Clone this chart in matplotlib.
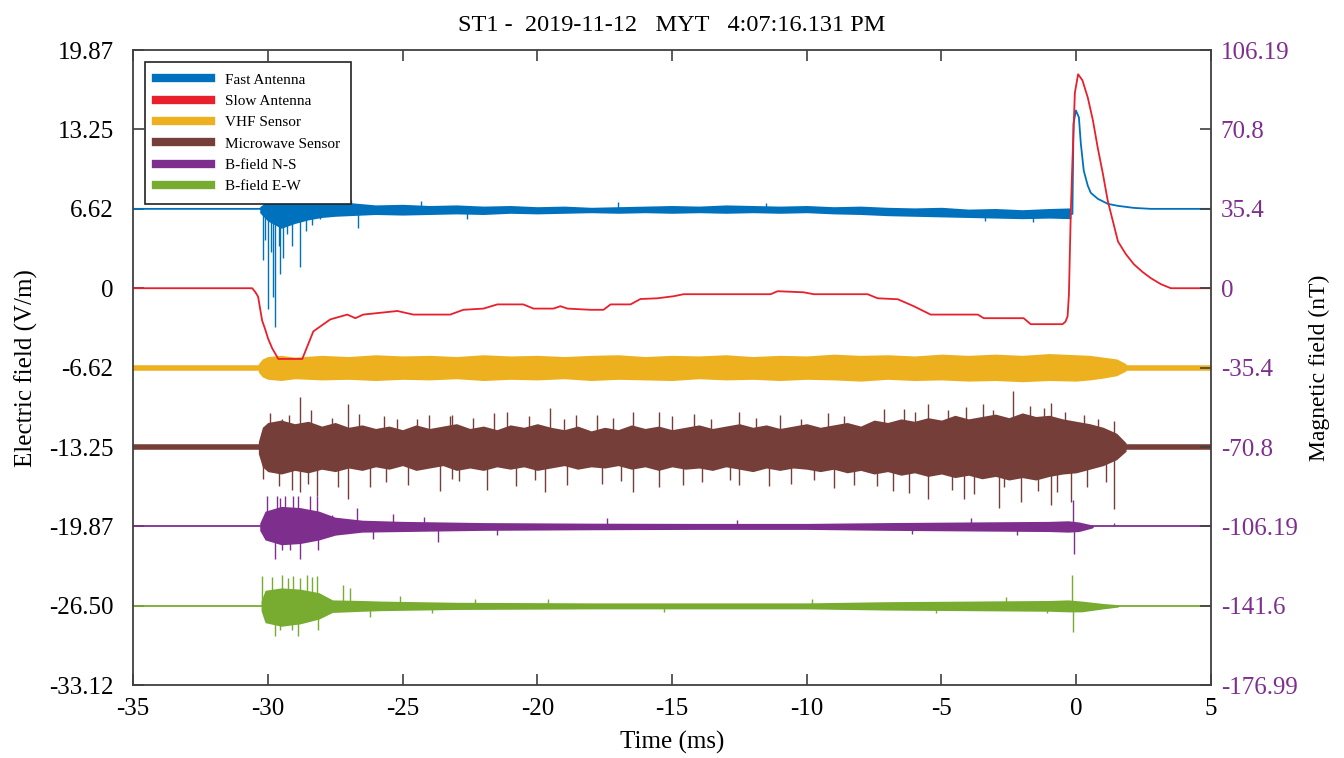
import matplotlib
matplotlib.use("Agg")
import matplotlib.pyplot as plt
from matplotlib.lines import Line2D

plt.rcParams['font.family'] = ['Liberation Serif', 'DejaVu Serif']
plt.rcParams['axes.unicode_minus'] = False

# colours
c_fast = '#0072BD'
c_slow = '#E8202C'
c_vhf = '#EDB120'
c_mw = '#763E39'
c_ns = '#7E2F8E'
c_ew = '#77AC30'

# Fast antenna (V/m): clean part of the trace
fa_t = [-35, -30.35, -27, -20, -10, -5, -0.2, -0.14, -0.10, -0.01, 0.10, 0.17, 0.28, 0.43, 0.54,
        0.80, 1.17, 1.55, 2.14, 2.77, 5]
fa_v = [6.62, 6.62, 6.6, 6.5, 6.55, 6.35, 6.2, 6.2, 13.74, 14.83, 14.25, 12.1, 9.8, 8.55, 7.96,
        7.46, 7.04, 6.87, 6.70, 6.62, 6.62]
# noise band of the fast antenna
fa_bt = [-30.3, -30.0, -29.5, -29.0, -28.5, -28.0, -27.5, -27.0, -26.5, -26.0, -25.0, -24.0, -23.0,
         -22.0, -21.0, -20.0, -19.0, -18.0, -17.0, -16.0, -15.0, -14.0, -13.0, -12.0, -11.0, -10.0,
         -9.0, -8.0, -7.0, -6.0, -5.0, -4.0, -3.0, -2.0, -1.0, -0.2]
fa_hi = [6.8, 7.3, 7.5, 7.6, 7.4, 7.5, 7.3, 7.15, 7.05, 6.95, 7.0, 6.9, 6.95, 6.85, 6.9, 6.8, 6.85,
         6.75, 6.8, 6.85, 6.9, 6.85, 6.95, 6.9, 6.85, 6.9, 6.8, 6.85, 6.75, 6.7, 6.75, 6.6, 6.65,
         6.55, 6.65, 6.7]
fa_lo = [6.3, 5.6, 5.0, 5.4, 5.7, 5.9, 6.0, 6.05, 6.1, 6.15, 6.1, 6.15, 6.2, 6.15, 6.25, 6.2,
         6.25, 6.3, 6.25, 6.3, 6.25, 6.3, 6.25, 6.3, 6.25, 6.3, 6.2, 6.15, 6.05, 6.0, 5.95, 5.9,
         5.85, 5.8, 5.85, 5.8]
fa_st = [-30.17, -30.1, -29.99, -29.87, -29.8, -29.73, -29.6, -29.54, -29.43, -29.28, -29.1, -28.8,
         -28.6, -28.35, -28.05, -26.64, -29.2, -28.9, -28.3, -27.9, -27.5, -26.9, -24.3, -22.6,
         -17.0, -11.5, -3.4, -1.6]
fa_sv = [2.35, 4.0, -1.7, 3.0, -0.7, -3.2, 3.5, 1.2, 2.5, 4.5, 3.5, 1.8,
         4.8, 5.3, 5.8, 5.0, 7.9, 7.8, 7.6, 7.7, 7.5, 7.4, 7.3, 5.8,
         7.2, 7.1, 5.6, 5.5]

# Slow antenna (V/m)
sa_t = [-35, -30.58, -30.47, -30.36, -30.21, -30.1, -29.99, -29.84, -29.61, -28.72, -28.31, -27.68,
        -27.05, -26.75, -26.46, -25.19, -24.6, -23.23, -22.74, -22.0, -21.48, -20.52, -20.14, -19.4,
        -19.14, -18.88, -18.03, -17.54, -17.28, -16.54, -16.17, -15.54, -14.94, -14.57, -11.34,
        -11.08, -10.12, -9.74, -7.74, -7.37, -6.62, -6.03, -5.4, -3.65, -3.43, -1.95, -1.69, -0.51,
        -0.40, -0.32, -0.27, -0.2, -0.14, -0.05, 0.07, 0.23, 0.43, 0.62, 0.80, 0.99, 1.17, 1.36,
        1.55, 1.84, 2.14, 2.47, 2.77, 3.14, 3.51, 5]
sa_v = [0, 0, -0.3, -0.7, -2.7, -3.4, -4.2, -5.0, -5.9, -5.9, -3.6, -2.6,
        -2.2, -2.5, -2.2, -1.9, -2.2, -2.2, -1.8, -1.7, -1.35, -1.35, -1.7, -1.7,
        -1.5, -1.7, -1.8, -1.8, -1.35, -1.35, -0.9, -0.84, -0.67, -0.5, -0.5,
        -0.25, -0.34, -0.5, -0.5, -0.84, -0.92, -1.5, -2.2, -2.2, -2.5, -2.5, -3.0, -3.0,
        -2.8, -2.35, -0.5, 6.45, 10.6, 16.3, 17.85, 17.35, 15.9, 14.0, 11.7, 9.55, 7.3, 5.6,
        3.9, 2.85, 2.0, 1.34, 0.84, 0.34, 0, 0]

# VHF sensor (V/m)
vhf_base = -6.62
vhf_t = [-30.35, -30.2, -30.0, -29.5, -29.0, -28.0, -27.0, -26.0, -25.0, -24.0, -23.0, -22.0, -21.0,
         -20.0, -19.0, -18.0, -17.0, -16.0, -15.0, -14.0, -13.0, -12.0, -11.0, -10.0, -9.0, -8.0,
         -7.0, -6.0, -5.0, -4.0, -3.0, -2.0, -1.0, 0.0, 0.5, 1.0, 1.5, 1.85]
vhf_hi = [-6.3, -5.9, -5.7, -5.6, -5.75, -5.6, -5.7, -5.55, -5.65, -5.6, -5.7, -5.55, -5.65, -5.6,
          -5.7, -5.6, -5.55, -5.7, -5.6, -5.65, -5.55, -5.7, -5.6, -5.65, -5.5, -5.6, -5.55, -5.65,
          -5.5, -5.6, -5.5, -5.6, -5.45, -5.55, -5.6, -5.75, -5.9, -6.3]
vhf_lo = [-7.0, -7.4, -7.6, -7.7, -7.55, -7.65, -7.6, -7.7, -7.6, -7.65, -7.55, -7.7, -7.6, -7.65,
          -7.55, -7.7, -7.6, -7.65, -7.7, -7.55, -7.65, -7.6, -7.7, -7.6, -7.65, -7.75, -7.6, -7.7,
          -7.65, -7.75, -7.7, -7.8, -7.7, -7.75, -7.65, -7.5, -7.3, -6.9]

# Microwave sensor (V/m)
mw_base = -13.25
mw_t = [-30.35, -30.2, -30.0, -29.5, -29.0, -28.5, -28.0, -27.5, -27.0, -26.5, -26.0, -25.5, -25.0,
        -24.5, -24.0, -23.5, -23.0, -22.5, -22.0, -21.5, -21.0, -20.5, -20.0, -19.5, -19.0, -18.5,
        -18.0, -17.5, -17.0, -16.5, -16.0, -15.5, -15.0, -14.5, -14.0, -13.5, -13.0, -12.5, -12.0,
        -11.5, -11.0, -10.5, -10.0, -9.5, -9.0, -8.5, -8.0, -7.5, -7.0, -6.5, -6.0, -5.5, -5.0,
        -4.5, -4.0, -3.5, -3.0, -2.5, -2.0, -1.5, -1.0, -0.5, 0.0, 0.5, 1.0, 1.5, 1.85]
mw_hi = [-12.8, -11.6, -11.2, -11.0, -11.3, -11.1, -11.5, -11.2, -11.6, -11.4, -11.7, -11.5, -11.8,
         -11.4, -11.7, -11.5, -11.3, -11.7, -11.5, -11.8, -11.4, -11.6, -11.3, -11.6, -11.8, -11.5,
         -11.9, -11.6, -11.8, -11.4, -11.7, -11.5, -11.8, -11.6, -11.4, -11.7, -11.5, -11.3, -11.6,
         -11.4, -11.7, -11.5, -11.3, -11.6, -11.4, -11.2, -11.5, -11.0, -11.2, -10.9, -11.1, -10.8,
         -11.0, -10.6, -10.9, -10.7, -10.5, -10.8, -10.4, -10.7, -10.6, -10.9, -11.1, -11.3, -11.6,
         -12.1, -12.9]
mw_lo = [-13.8, -14.9, -15.3, -15.5, -15.2, -15.4, -15.1, -15.3, -15.0, -15.2, -14.9, -15.1, -14.8,
         -15.2, -15.0, -14.8, -15.2, -15.0, -15.2, -14.9, -15.1, -14.9, -15.2, -15.0, -14.8, -15.1,
         -14.9, -15.0, -14.8, -15.1, -14.9, -15.2, -14.9, -15.1, -15.0, -15.2, -14.9, -15.1, -15.3,
         -15.0, -15.2, -15.0, -15.1, -15.3, -15.1, -15.4, -15.2, -15.5, -15.3, -15.6, -15.4, -15.7,
         -15.5, -15.8, -15.6, -15.9, -15.7, -16.0, -15.8, -16.0, -15.7, -15.5, -15.4, -15.1, -14.8,
         -14.3, -13.6]
mw_st = [-28.8, -29.47, -27.01, -25.7, -24.45, -23.23, -23.15, -21.11, -19.51, -18.58, -16.43, -15.5,
         -13.57, -12.53, -10.23, -7.14, -5.51, -4.77, -2.35, -0.94, 1.4, -3.47,
         -29.9, -29.2, -28.4, -27.6, -26.6, -25.2, -24.0, -22.4, -21.6, -20.3, -19.0, -17.8,
         -17.2, -15.0, -14.2, -11.9, -11.0, -9.2, -8.6, -6.4, -6.0, -4.1, -3.1, -1.7, -1.2, -0.4,
         0.3, 0.8,
         -30.17, -29.1, -28.8, -28.17, -27.01, -26.2, -23.6, -23.15, -21.85, -19.7, -18.88, -16.43,
         -15.5, -12.83, -12.53, -9.74, -8.26, -5.51, -4.17, -2.87, -2.69, -2.06, -0.94, -0.2, 1.4,
         -29.6, -28.5, -27.4, -25.6, -24.8, -22.9, -20.8, -20.1, -17.6, -16.9, -14.6, -13.9, -11.4,
         -10.6, -9.0, -7.4, -6.8, -6.2, -4.6, -3.8, -1.4, -0.7, 0.4, 1.1]
mw_sv = [-9.05, -10.9, -9.7, -10.7, -10.9, -10.7, -10.6, -10.3, -10.0, -10.6, -10.3, -10.3,
         -10.9, -10.3, -10.9, -10.05, -9.7, -10.2, -8.6, -9.6, -11.1, -9.7,
         -10.4, -10.6, -10.2, -10.8, -10.5, -10.9, -10.6, -10.8, -10.4, -10.7, -10.9, -10.6,
         -10.8, -10.7, -10.5, -10.8, -10.6, -10.4, -10.7, -10.1, -10.3, -9.9, -10.2, -9.8, -10.0,
         -10.3, -10.6, -10.9,
         -15.9, -16.8, -17.0, -17.3, -17.6, -16.6, -16.9, -15.9, -16.8, -17.0, -16.4, -17.0,
         -16.6, -16.0, -16.4, -16.0, -16.4, -17.6, -17.6, -18.35, -16.6, -17.8, -18.1, -17.8, -18.4,
         -16.5, -16.3, -16.6, -16.2, -16.4, -16.1, -16.5, -16.0, -16.3, -16.1, -16.4, -16.2, -16.5,
         -16.3, -16.7, -16.5, -16.9, -17.1, -16.8, -17.2, -16.9, -17.0, -16.6, -16.2]

# B-field N-S (drawn on the E-field scale)
ns_base = -19.87
ns_t = [-30.3, -30.1, -29.5, -28.8, -28.1, -27.5, -26.5, -25, -22, -18, -14, -10, -7, -4, -1, -0.3,
        0.1, 0.6, 0.65]
ns_hi = [-19.6, -18.6, -18.2, -18.3, -18.6, -19.1, -19.35, -19.45, -19.55, -19.6, -19.62, -19.62,
         -19.55, -19.5, -19.45, -19.4, -19.5, -19.75, -19.87]
ns_lo = [-20.2, -21.0, -21.4, -21.3, -21.0, -20.6, -20.35, -20.3, -20.2, -20.15, -20.12, -20.12,
         -20.2, -20.25, -20.3, -20.35, -20.3, -20.0, -19.87]
ns_st = [-30.02, -29.65, -29.54, -29.35, -29.06, -28.87, -28.43, -28.17, -26.68, -25.34, -0.13,
         -29.73, -29.47, -29.17, -28.8, -28.13, -23.67, -0.1, -27.6, -26.1, -24.2, -21.5, -17.4,
         -12.6, -6.1, -3.9, -2.2, 1.4]
ns_sv = [-17.3, -17.3, -17.5, -17.3, -17.3, -17.3, -17.3, -17.3, -18.3, -18.8, -17.7,
         -22.6, -21.8, -21.8, -22.6, -21.8, -21.2, -22.2, -18.9, -20.9, -19.1, -20.6, -19.2,
         -19.3, -20.5, -19.2, -20.6, -19.6]

# B-field E-W
ew_base = -26.5
ew_t = [-30.25, -30.1, -29.5, -28.8, -28.1, -27.6, -26.5, -25.8, -23, -18, -14, -10, -7, -4, -1,
        -0.3, 0.2, 1.0, 1.55, 1.6]
ew_hi = [-26.1, -25.2, -25.0, -25.1, -25.4, -26.0, -26.05, -26.1, -26.2, -26.25, -26.25, -26.25,
         -26.15, -26.1, -26.05, -26.0, -26.1, -26.3, -26.4, -26.5]
ew_lo = [-26.9, -27.9, -28.2, -28.0, -27.6, -27.05, -26.95, -26.9, -26.8, -26.75, -26.75, -26.75,
         -26.85, -26.9, -26.95, -27.0, -27.0, -26.75, -26.6, -26.5]
ew_st = [-30.2, -29.84, -29.47, -29.24, -29.06, -28.8, -28.54, -28.35, -28.17, -29.73, -28.87,
         -29.54, -29.09, -28.13, -27.2, -26.94, -0.16, -0.12, -26.2, -25.1, -23.9, -22.3, -19.6,
         -15.3, -9.8, -5.2, -2.6, -1.1]
ew_sv = [-24.0, -24.1, -23.9, -24.2, -24.0, -24.2, -23.9, -24.1, -24.0, -29.0, -29.0,
         -28.5, -28.5, -28.5, -24.8, -25.0, -23.96, -28.7, -27.4, -25.7, -27.1, -25.9, -25.9,
         -27.0, -25.9, -27.1, -25.8, -27.1]

e_ticks = [-33.12, -26.50, -19.87, -13.25, -6.62, 0, 6.62, 13.25, 19.87]
e_labels = ['-33.12', '-26.50', '-19.87', '-13.25', '-6.62', '0', '6.62', '13.25', '19.87']
b_ticks = [-176.99, -141.6, -106.19, -70.8, -35.4, 0, 35.4, 70.8, 106.19]
b_labels = ['-176.99', '-141.6', '-106.19', '-70.8', '-35.4', '0', '35.4', '70.8', '106.19']

fig = plt.figure(figsize=(13.44, 7.58), dpi=100)
ax = fig.add_axes([0.099, 0.096, 0.802, 0.838])

# microwave
ax.plot([-35, 5], [mw_base, mw_base], color=c_mw, lw=4, solid_capstyle='butt')
ax.fill_between(mw_t, mw_lo, mw_hi, color=c_mw, lw=0)
ax.vlines(mw_st, mw_base, mw_sv, color=c_mw, lw=1.0)
# vhf
ax.plot([-35, 5], [vhf_base, vhf_base], color=c_vhf, lw=4, solid_capstyle='butt')
ax.fill_between(vhf_t, vhf_lo, vhf_hi, color=c_vhf, lw=0)
# b-fields
ax.plot([-35, 5], [ns_base, ns_base], color=c_ns, lw=1.3)
ax.fill_between(ns_t, ns_lo, ns_hi, color=c_ns, lw=0)
ax.vlines(ns_st, ns_base, ns_sv, color=c_ns, lw=1.0)
ax.plot([-35, 5], [ew_base, ew_base], color=c_ew, lw=1.3)
ax.fill_between(ew_t, ew_lo, ew_hi, color=c_ew, lw=0)
ax.vlines(ew_st, ew_base, ew_sv, color=c_ew, lw=1.0)
# fast antenna
ax.fill_between(fa_bt, fa_lo, fa_hi, color=c_fast, lw=0)
ax.vlines(fa_st, 6.5, fa_sv, color=c_fast, lw=1.0)
ax.plot(fa_t, fa_v, color=c_fast, lw=1.3)
# slow antenna
ax.plot(sa_t, sa_v, color=c_slow, lw=1.3)

ax.set_xlim(-35, 5)
ax.set_ylim(-33.12, 19.87)
ax.set_xticks(range(-35, 6, 5))
ax.set_yticks(e_ticks)
ax.set_yticklabels(e_labels)
ax.tick_params(direction='in', top=True, labelsize=18, length=8, width=1.2, colors='#404040',
               labelcolor='black')
ax.tick_params(axis='y', pad=14)
ax.tick_params(axis='x', pad=9)
for s in ax.spines.values():
    s.set_color('#404040')
    s.set_linewidth(1.3)
ax.set_xlabel('Time (ms)', fontsize=18, labelpad=8)
ax.set_ylabel('Electric field (V/m)', fontsize=18, labelpad=8)

ax2 = ax.twinx()
ax2.set_ylim(-176.99, 106.19)
ax2.set_yticks(b_ticks)
ax2.set_yticklabels(b_labels)
ax2.tick_params(direction='in', labelsize=18, length=8, width=1.2, colors='#404040',
                labelcolor='#7E2F8E', pad=7)
for s in ax2.spines.values():
    s.set_visible(False)
ax2.set_ylabel('Magnetic field (nT)', fontsize=17, labelpad=8)

ax.set_title('ST1 -  2019-11-12   MYT   4:07:16.131 PM', fontsize=17.5, pad=14)

handles = [Line2D([], [], color=c, lw=6) for c in [c_fast, c_slow, c_vhf, c_mw, c_ns, c_ew]]
names = ['Fast Antenna', 'Slow Antenna', 'VHF Sensor', 'Microwave Sensor', 'B-field N-S', 'B-field E-W']
leg = ax.legend(handles, names, loc='upper left', fontsize=11, fancybox=False, framealpha=1,
                edgecolor='#222222', handlelength=3.6, handletextpad=0.9, borderaxespad=0.8,
                borderpad=0.7, labelspacing=0.5)
leg.get_frame().set_linewidth(1.2)

fig.savefig('out.png', dpi=100)
